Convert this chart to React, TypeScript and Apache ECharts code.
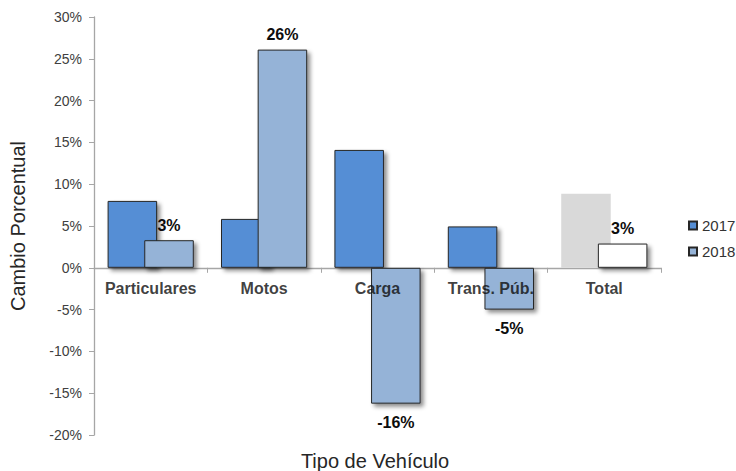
import React, { useEffect, useRef } from "react";
import * as echarts from "echarts";

const categories = ["Particulares", "Motos", "Carga", "Trans. Púb.", "Total"];
const values2017 = [8.0, 5.85, 14.1, 4.95, 8.85];
const values2018 = [3.3, 26.1, -16.25, -5.0, 2.9];
const yTicks = { min: -20, max: 30, interval: 5 };

const C2017 = "#558ed5";
const C2018 = "#95b3d7";
const BORDER = "#262626";
const FONT = "'Liberation Sans', Arial, sans-serif";

export default function App() {
  const ref = useRef<HTMLDivElement>(null);
  useEffect(() => {
    if (!ref.current) return;
    document.body.style.margin = "0";
    const chart = echarts.init(ref.current, undefined, { renderer: "svg" });
    const last = categories.length - 1;
    const shadow = {
      shadowColor: "rgba(0,0,0,0.45)",
      shadowBlur: 4,
      shadowOffsetX: 3,
      shadowOffsetY: 3,
    };
    chart.setOption({
      animation: false,
      backgroundColor: "#ffffff",
      grid: { left: 92, right: 75, top: 17, bottom: 36, containLabel: false },
      legend: {
        orient: "vertical",
        left: 683,
        top: 213,
        width: 60,
        itemWidth: 8,
        itemHeight: 8,
        itemGap: 11,
        icon: "rect",
        textStyle: { fontFamily: FONT, fontSize: 15, color: "#333333", width: 45, overflow: "none" },
        data: ["2017", "2018"],
      },
      graphic: [
        {
          type: "text",
          x: 375,
          y: 461,
          style: {
            text: "Tipo de Vehículo",
            fontFamily: FONT,
            fontSize: 20,
            fill: "#262626",
            textAlign: "center",
            textVerticalAlign: "middle",
          },
        },
      ],
      xAxis: {
        type: "category",
        data: categories,
        axisLine: { onZero: true, lineStyle: { color: "#a6a6a6", width: 1.3 } },
        axisTick: { show: true, length: 5, lineStyle: { color: "#a6a6a6" } },
        axisLabel: { show: false },
        splitLine: { show: false },
      },
      yAxis: {
        type: "value",
        min: yTicks.min,
        max: yTicks.max,
        interval: yTicks.interval,
        name: "Cambio Porcentual",
        nameLocation: "middle",
        nameGap: 66,
        nameTextStyle: { fontFamily: FONT, fontSize: 20, color: "#262626" },
        axisLine: { show: true, lineStyle: { color: "#a6a6a6", width: 1.3 } },
        axisTick: { show: true, length: 5, lineStyle: { color: "#a6a6a6" } },
        axisLabel: {
          fontFamily: FONT,
          fontSize: 14,
          color: "#404040",
          margin: 12,
          formatter: (v: number) => v + "%",
        },
        splitLine: { show: false },
      },
      series: [
        {
          name: "2017",
          type: "bar",
          barGap: "-26%",
          barCategoryGap: "24%",
          itemStyle: { color: C2017, borderColor: BORDER, borderWidth: 1, ...shadow },
          data: values2017.map((v, i) =>
            i === last
              ? {
                  value: v,
                  itemStyle: {
                    color: "#d9d9d9",
                    borderWidth: 0,
                    shadowColor: "rgba(0,0,0,0)",
                    shadowBlur: 0,
                  },
                }
              : v
          ),
        },
        {
          name: "2018",
          type: "bar",
          itemStyle: { color: C2018, borderColor: BORDER, borderWidth: 1, ...shadow },
          label: {
            show: true,
            fontFamily: FONT,
            fontWeight: "bold",
            fontSize: 16,
            color: "#0d0d0d",
            distance: 7,
            formatter: (p: any) => Math.round(p.value) + "%",
          },
          data: values2018.map((v, i) => {
            const item: any = {
              value: v,
              label: v < 0 ? { position: "bottom", distance: 11 } : { position: "top", distance: 7 },
            };
            if (i === last) item.itemStyle = { color: "#ffffff" };
            return item;
          }),
        },
        {
          name: "categoryLabels",
          type: "scatter",
          symbolSize: 0,
          silent: true,
          z: 10,
          label: {
            show: true,
            position: "bottom",
            distance: 13,
            fontFamily: FONT,
            fontWeight: "bold",
            fontSize: 16,
            color: "#0d0d0d",
            formatter: (p: any) => categories[p.dataIndex],
          },
          data: categories.map((c) => [c, 0]),
        },
      ],
    });
    return () => chart.dispose();
  }, []);
  return (
    <div
      ref={ref}
      style={{ position: "fixed", left: 0, top: 0, width: 736, height: 471 }}
    />
  );
}
